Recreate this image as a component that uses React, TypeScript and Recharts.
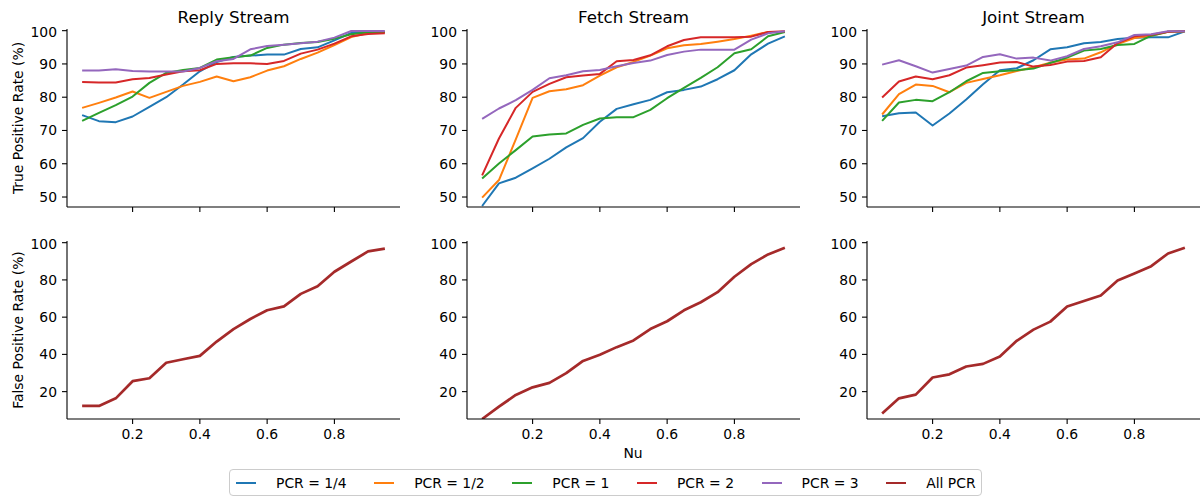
import { Line, LineChart, XAxis, YAxis } from "recharts";

// Nu values shared by every panel
const NU = [0.05, 0.1, 0.15, 0.2, 0.25, 0.3, 0.35, 0.4, 0.45, 0.5, 0.55, 0.6, 0.65, 0.7, 0.75, 0.8, 0.85, 0.9, 0.95];

// True positive rate (%), Reply stream
const REPLY_Q = [74.6, 72.8, 72.5, 74.2, 77.1, 80.0, 83.8, 87.8, 90.6, 92.1, 92.5, 92.8, 92.8, 94.5, 95.0, 97.1, 99.3, 99.6, 99.6];
const REPLY_H = [76.8, 78.3, 79.9, 81.7, 79.8, 81.6, 83.4, 84.6, 86.2, 84.8, 86.0, 88.0, 89.3, 91.5, 93.4, 95.7, 98.1, 99.3, 99.6];
const REPLY_1 = [72.9, 75.3, 77.6, 80.2, 84.3, 87.3, 88.2, 88.8, 91.3, 92.0, 92.5, 94.8, 95.8, 96.3, 96.6, 97.6, 98.9, 99.5, 99.6];
const REPLY_2 = [84.6, 84.4, 84.4, 85.4, 85.8, 86.8, 87.8, 88.1, 90.0, 90.2, 90.2, 90.0, 90.9, 93.1, 94.3, 96.1, 98.3, 99.0, 99.2];
const REPLY_3 = [88.0, 88.0, 88.4, 87.9, 87.7, 87.7, 87.7, 88.8, 90.8, 91.5, 94.4, 95.4, 95.8, 96.2, 96.7, 97.9, 99.9, 99.9, 99.9];

// True positive rate (%), Fetch stream
const FETCH_Q = [47.3, 54.1, 55.8, 58.6, 61.5, 64.9, 67.7, 72.6, 76.5, 77.9, 79.2, 81.5, 82.2, 83.2, 85.4, 88.1, 92.9, 96.1, 98.3];
const FETCH_H = [49.8, 55.1, 67.3, 79.8, 81.8, 82.4, 83.6, 86.5, 89.0, 90.6, 92.5, 94.7, 95.6, 96.0, 96.7, 97.5, 98.5, 99.6, 99.6];
const FETCH_1 = [55.6, 60.1, 64.1, 68.2, 68.8, 69.1, 71.7, 73.6, 74.0, 74.0, 76.2, 79.7, 82.8, 85.8, 89.0, 93.2, 94.4, 98.3, 99.6];
const FETCH_2 = [56.5, 67.6, 76.8, 81.6, 84.0, 86.0, 86.5, 87.0, 90.8, 91.2, 92.6, 95.3, 97.2, 98.0, 98.0, 98.0, 98.2, 99.6, 99.8];
const FETCH_3 = [73.5, 76.6, 79.1, 82.2, 85.7, 86.6, 87.8, 88.2, 89.3, 90.3, 91.0, 92.7, 93.7, 94.3, 94.3, 94.3, 97.3, 99.2, 99.8];

// True positive rate (%), Joint stream
const JOINT_Q = [74.3, 75.2, 75.4, 71.5, 75.1, 79.3, 83.9, 88.1, 88.7, 91.1, 94.4, 95.0, 96.2, 96.6, 97.5, 97.9, 98.0, 98.0, 99.8];
const JOINT_H = [74.8, 80.9, 83.8, 83.4, 81.5, 84.3, 85.5, 86.6, 87.9, 89.0, 90.4, 91.3, 91.6, 93.5, 96.0, 97.8, 98.5, 99.7, 99.8];
const JOINT_1 = [72.9, 78.4, 79.2, 78.8, 81.5, 84.8, 87.3, 87.8, 88.1, 88.6, 90.3, 91.9, 94.0, 94.5, 95.7, 96.0, 98.5, 99.7, 99.8];
const JOINT_2 = [79.9, 84.7, 86.2, 85.4, 86.6, 88.9, 89.6, 90.4, 90.6, 89.2, 89.7, 90.7, 90.9, 92.0, 96.3, 98.3, 98.8, 99.7, 99.8];
const JOINT_3 = [89.8, 91.1, 89.3, 87.4, 88.5, 89.5, 92.1, 92.9, 91.6, 91.9, 91.0, 92.3, 94.5, 95.3, 96.5, 98.7, 98.9, 99.8, 99.8];

// False positive rate (%), all PCR
const REPLY_FPR = [12.3, 12.3, 16.4, 25.6, 27.2, 35.5, 37.4, 39.2, 46.9, 53.6, 59.0, 63.7, 65.8, 72.5, 76.6, 84.4, 89.9, 95.3, 96.8];
const FETCH_FPR = [5.3, 11.9, 18.2, 22.3, 24.7, 29.9, 36.5, 39.8, 43.9, 47.5, 53.6, 57.8, 63.7, 68.0, 73.4, 81.7, 88.5, 93.7, 97.3];
const JOINT_FPR = [8.3, 16.4, 18.4, 27.6, 29.3, 33.5, 34.9, 38.9, 47.3, 53.3, 57.6, 65.7, 68.7, 71.6, 79.7, 83.5, 87.4, 94.2, 97.3];

const PCR_LABELS = ["PCR = 1/4", "PCR = 1/2", "PCR = 1", "PCR = 2", "PCR = 3"];
const PCR_COLORS = ["#1f77b4", "#ff7f0e", "#2ca02c", "#d62728", "#9467bd"];
const ALL_LABEL = "All PCR";
const ALL_COLOR = "#a52a2a";

const TITLES = ["Reply Stream", "Fetch Stream", "Joint Stream"];
const X_TICKS = [0.2, 0.4, 0.6, 0.8];
const TPR_TICKS = [50, 60, 70, 80, 90, 100];
const FPR_TICKS = [20, 40, 60, 80, 100];

const FONT = '"DejaVu Sans", sans-serif';
const COL_LEFT = [67, 467, 867];
const PLOT_W = 333;
const PLOT_H = 178;
const ROW_TOP = [29, 241];
const Y_AXIS_W = 45;
const M_TOP = 5;
const M_RIGHT = 4;
const X_AXIS_H = 30;

function rows(series: number[][]) {
  return NU.map((nu, i) => {
    const row: Record<string, number> = { nu };
    series.forEach((s, k) => {
      row[`s${k}`] = s[i];
    });
    return row;
  });
}

function Panel({
  col,
  row,
  series,
  colors,
  domain,
  ticks,
  width,
}: {
  col: number;
  row: number;
  series: number[][];
  colors: string[];
  domain: [number, number];
  ticks: number[];
  width: number;
}) {
  const data = rows(series);
  const axisStroke = { stroke: "#000", strokeWidth: 1.1 };
  return (
    <div
      style={{
        position: "absolute",
        left: COL_LEFT[col] - Y_AXIS_W,
        top: ROW_TOP[row] - M_TOP,
      }}
    >
      <LineChart
        width={Y_AXIS_W + PLOT_W + M_RIGHT}
        height={M_TOP + PLOT_H + X_AXIS_H}
        data={data}
        margin={{ top: M_TOP, right: M_RIGHT, left: 0, bottom: 0 }}
      >
        <XAxis
          dataKey="nu"
          type="number"
          domain={[0.005, 0.995]}
          ticks={X_TICKS}
          allowDataOverflow
          height={X_AXIS_H}
          tickSize={5}
          tickMargin={5}
          axisLine={axisStroke}
          tickLine={axisStroke}
          tick={{ fill: "#000", fontSize: 13.9, fontFamily: FONT }}
          tickFormatter={(v: number) => (row === 0 ? "" : v.toFixed(1))}
        />
        <YAxis
          type="number"
          domain={domain}
          ticks={ticks}
          allowDataOverflow
          width={Y_AXIS_W}
          tickSize={5}
          tickMargin={5}
          axisLine={axisStroke}
          tickLine={axisStroke}
          tick={{ fill: "#000", fontSize: 13.9, fontFamily: FONT }}
        />
        {series.map((_, k) => (
          <Line
            key={k}
            type="linear"
            dataKey={`s${k}`}
            stroke={colors[k]}
            strokeWidth={width}
            strokeLinejoin="round"
            dot={false}
            activeDot={false}
            isAnimationActive={false}
          />
        ))}
      </LineChart>
    </div>
  );
}

const textBase: React.CSSProperties = {
  position: "absolute",
  fontFamily: FONT,
  color: "#000",
  whiteSpace: "nowrap",
};

export default function App() {
  const tpr = [
    [REPLY_Q, REPLY_H, REPLY_1, REPLY_2, REPLY_3],
    [FETCH_Q, FETCH_H, FETCH_1, FETCH_2, FETCH_3],
    [JOINT_Q, JOINT_H, JOINT_1, JOINT_2, JOINT_3],
  ];
  const fpr = [REPLY_FPR, FETCH_FPR, JOINT_FPR];
  const legend = [
    ...PCR_LABELS.map((l, i) => ({ label: l, color: PCR_COLORS[i] })),
    { label: ALL_LABEL, color: ALL_COLOR },
  ];

  return (
    <div
      style={{
        position: "relative",
        width: 1200,
        height: 497,
        background: "#fff",
        overflow: "hidden",
      }}
    >
      <style>{"body{margin:0}"}</style>

      {TITLES.map((t, c) => (
        <div
          key={t}
          style={{
            ...textBase,
            left: COL_LEFT[c],
            width: PLOT_W,
            top: 7,
            textAlign: "center",
            fontSize: 16.7,
            lineHeight: "20px",
          }}
        >
          {t}
        </div>
      ))}

      {tpr.map((s, c) => (
        <Panel
          key={`t${c}`}
          col={c}
          row={0}
          series={s}
          colors={PCR_COLORS}
          domain={[47, 100.5]}
          ticks={TPR_TICKS}
          width={2}
        />
      ))}
      {fpr.map((s, c) => (
        <Panel
          key={`f${c}`}
          col={c}
          row={1}
          series={[s]}
          colors={[ALL_COLOR]}
          domain={[5.3, 100.9]}
          ticks={FPR_TICKS}
          width={2.7}
        />
      ))}

      <div
        style={{
          ...textBase,
          left: 18,
          top: 118,
          fontSize: 13.9,
          transform: "translate(-50%, -50%) rotate(-90deg)",
        }}
      >
        True Positive Rate (%)
      </div>
      <div
        style={{
          ...textBase,
          left: 18,
          top: 330,
          fontSize: 13.9,
          transform: "translate(-50%, -50%) rotate(-90deg)",
        }}
      >
        False Positive Rate (%)
      </div>
      <div
        style={{
          ...textBase,
          left: 633,
          top: 453,
          fontSize: 13.9,
          transform: "translate(-50%, -50%)",
        }}
      >
        Nu
      </div>

      <div
        style={{
          position: "absolute",
          left: 229,
          top: 469,
          width: 753,
          height: 27,
          boxSizing: "border-box",
          border: "1px solid #cccccc",
          borderRadius: 4,
          background: "#fff",
          display: "flex",
          alignItems: "center",
          paddingLeft: 6,
          fontFamily: FONT,
          fontSize: 13.9,
        }}
      >
        {legend.map((item, i) => (
          <div
            key={item.label}
            style={{
              display: "flex",
              alignItems: "center",
              marginRight: i < legend.length - 1 ? 27.6 : 0,
            }}
          >
            <span
              style={{
                display: "inline-block",
                width: 20,
                height: 2,
                background: item.color,
                marginRight: 20,
              }}
            />
            <span style={{ whiteSpace: "nowrap" }}>{item.label}</span>
          </div>
        ))}
      </div>
    </div>
  );
}
